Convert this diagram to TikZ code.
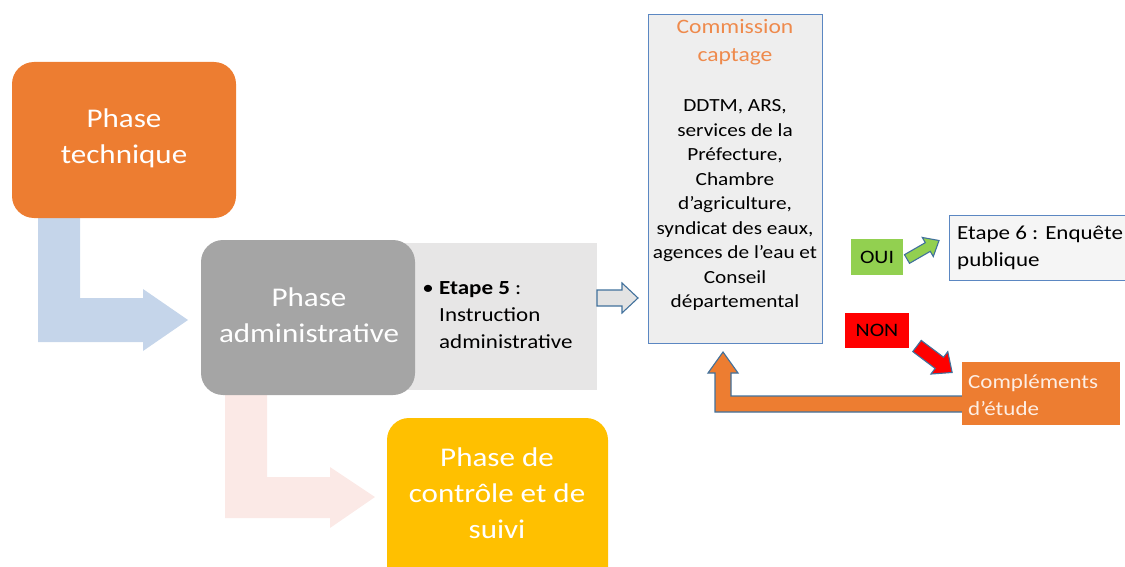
\documentclass[tikz,border=0pt]{standalone}
\usepackage{fontspec}
\setmainfont[FakeStretch=1.15]{Carlito}
\definecolor{phorange}{HTML}{ED7D31}
\definecolor{phgray}{HTML}{A5A5A5}
\definecolor{phlight}{HTML}{E7E6E6}
\definecolor{phyellow}{HTML}{FFC000}
\definecolor{flowblue}{HTML}{C5D5EA}
\definecolor{flowpink}{HTML}{FBE9E6}
\definecolor{edgeblue}{HTML}{41719C}
\definecolor{boxblue}{HTML}{5B87C2}
\definecolor{boxfill}{HTML}{EEEEEE}
\definecolor{okgreen}{HTML}{92D050}
\definecolor{titleorange}{HTML}{EE8A4C}
\definecolor{paletext}{HTML}{FDEEE4}
% block arrow: position, angle, length, shaft half width, head half width, head length, style
\newcommand\blkarrow[7]{%
  \path[#7, shift={#1}, rotate=#2]
    (0,-#4) -- ({#3-#6},-#4) -- ({#3-#6},-#5) -- (#3,0) -- ({#3-#6},#5)
    -- ({#3-#6},#4) -- (0,#4) -- cycle;}
\begin{document}
\begin{tikzpicture}[x=1pt,y=-1pt,
  phasebox/.style={rounded corners=22pt, inner sep=0pt},
  phasetext/.style={text=white, align=center, inner sep=0pt,
    font=\fontsize{27}{36}\selectfont},
  bodytext/.style={align=center, inner sep=0pt,
    font=\fontsize{18.5}{24.5}\selectfont},
  smalltext/.style={inner sep=0pt, font=\fontsize{20}{27}\selectfont},
  outlined/.style={draw=edgeblue, line width=1.1pt, line join=miter}]
\useasboundingbox (0,0) rectangle (1125,567);
\clip (0,0) rectangle (1125,567);

% bent flow arrows between the phases
\fill[flowblue] (38,218) -- (80,218) -- (80,298) -- (143,298) -- (143,289)
  -- (188,320) -- (143,351) -- (143,342) -- (38,342) -- cycle;
\fill[flowpink] (225,395) -- (267,395) -- (267,477) -- (330,477) -- (330,467)
  -- (375,497) -- (330,528) -- (330,518) -- (225,518) -- cycle;

% phase technique
\node[phasebox, fill=phorange, minimum width=224pt, minimum height=156pt]
  (tech) at (124,140) {};
\node[phasetext] (techtxt) at (124,138) {Phase\\technique};

% step 5 panel and phase administrative
\node[fill=phlight, inner sep=0pt, minimum width=192pt, minimum height=147pt]
  (etape5) at (501,316.5) {};
\node[phasebox, fill=phgray, minimum width=214pt, minimum height=155pt]
  (admin) at (308,317.5) {};
\node[phasetext] (admintxt) at (309,315) {Phase\\administrative};
\node[smalltext, anchor=center] (bullet) at (428,290) {\textbullet};
\node[smalltext, align=left, anchor=west] (etape5txt) at (439,315)
  {\textbf{Etape 5} :\\Instruction\\administrative};

% phase de contrôle et de suivi
\fill[phyellow, rounded corners=22pt] (387,418) rectangle (608,610);
\node[phasetext] (ctrltxt) at (497,493) {Phase de\\contrôle et de\\suivi};

% arrow to the commission
\path[fill=boxfill!90!gray, outlined] (597,290) -- (622,290) -- (622,283)
  -- (638,298) -- (622,313) -- (622,306) -- (597,306) -- cycle;

% commission captage
\node[draw=boxblue, fill=boxfill, line width=1pt, inner sep=0pt,
  minimum width=174pt, minimum height=328pt] (comm) at (735,179) {};
\node[bodytext, text=titleorange, font=\fontsize{20.5}{28}\selectfont]
  (commtitle) at (735,42) {Commission\\captage};
\node[bodytext] (commbody) at (735,205)
  {DDTM, ARS,\\services de la\\Préfecture,\\Chambre\\d’agriculture,\\
   syndicat des eaux,\\agences de l’eau et\\Conseil\\départemental};

% OUI branch
\node[fill=okgreen, inner sep=0pt, minimum width=52pt, minimum height=36pt,
  font=\fontsize{19}{22}\selectfont] (oui) at (877,257) {OUI};
\blkarrow{(907,259)}{30}{37}{5}{11}{13}{fill=okgreen, outlined}
\node[draw=boxblue, fill=boxfill!60!white, line width=1pt, inner sep=0pt,
  minimum width=190pt, minimum height=65pt] (etape6) at (1044,247.5) {};
\node[smalltext, align=left, anchor=west] (etape6txt) at (957,248)
  {Etape 6 : Enquête\\publique};

% NON branch
\node[fill=red, inner sep=0pt, minimum width=64pt, minimum height=35pt,
  font=\fontsize{19}{22}\selectfont] (non) at (877,330.5) {NON};
\blkarrow{(917,346)}{-37}{44}{7}{14}{16}{fill=red, outlined}

% return loop from the complements back to the commission
\path[fill=phorange, outlined] (963,396) -- (731,396) -- (731,373) -- (738,373)
  -- (723,352) -- (708,373) -- (715,373) -- (715,412) -- (963,412) -- cycle;
\node[fill=phorange, inner sep=0pt, minimum width=158pt, minimum height=63pt]
  (compl) at (1041,393.5) {};
\node[smalltext, align=left, anchor=west, text=paletext] (compltxt) at (968,395)
  {Compléments\\d’étude};
\end{tikzpicture}
\end{document}
